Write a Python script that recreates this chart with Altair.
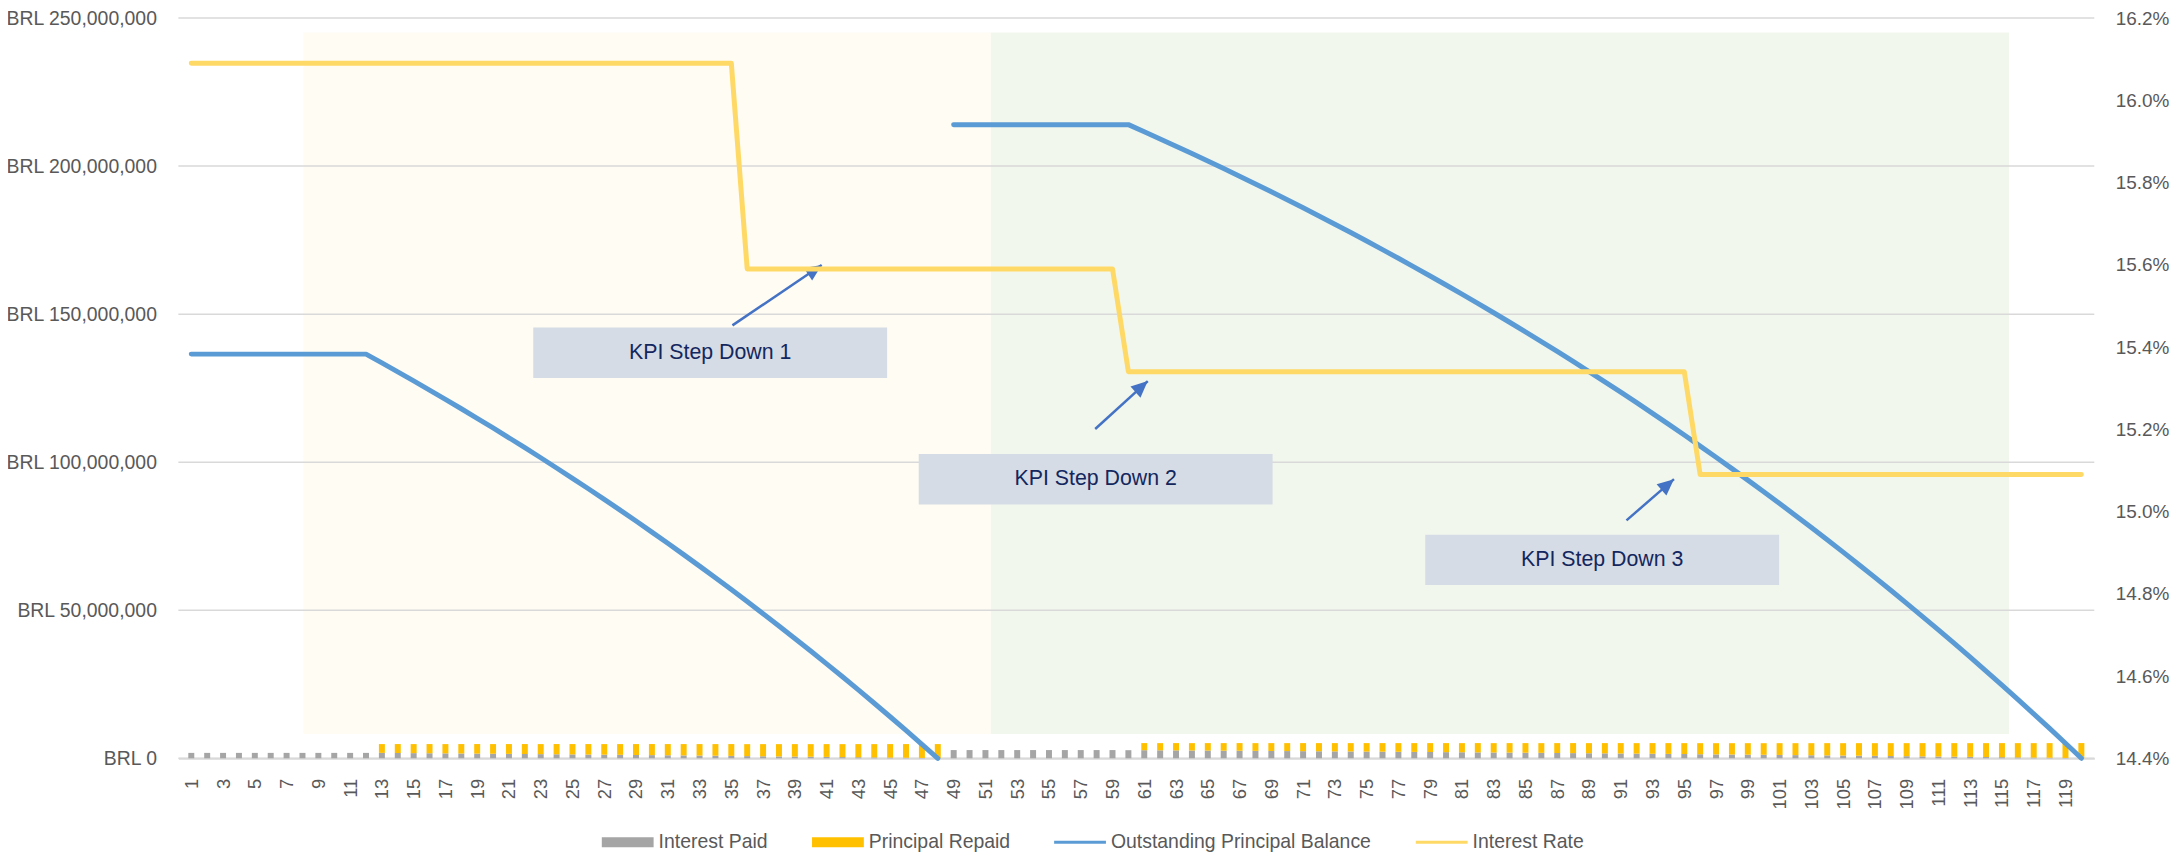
import altair as alt
import pandas as pd

# ---------------- data ----------------
months = list(range(1, 121))

# BRL millions per month
interest_paid_m = (
    [1.83] * 12
    + [1.830, 1.790, 1.750, 1.709, 1.667, 1.625, 1.583, 1.540, 1.496, 1.451,
       1.406, 1.361, 1.315, 1.268, 1.220, 1.172, 1.124, 1.074, 1.024, 0.974,
       0.922, 0.870, 0.817]
    + [0.740, 0.688, 0.635, 0.581, 0.526, 0.471, 0.414, 0.358, 0.300, 0.242,
       0.182, 0.122, 0.062]
    + [2.78] * 11 + [2.74]
    + [2.736, 2.705, 2.674, 2.643, 2.611, 2.579, 2.546, 2.513, 2.480, 2.446,
       2.411, 2.377, 2.341, 2.306, 2.270, 2.233, 2.196, 2.159, 2.121, 2.082,
       2.043, 2.004, 1.964, 1.923, 1.882, 1.841, 1.799, 1.756, 1.713, 1.670,
       1.625, 1.580, 1.535, 1.489, 1.443]
    + [1.373, 1.326, 1.278, 1.230, 1.181, 1.132, 1.082, 1.031, 0.980, 0.928,
       0.875, 0.822, 0.768, 0.714, 0.658, 0.602, 0.545, 0.488, 0.429, 0.370,
       0.311, 0.250, 0.189, 0.127, 0.064]
)

principal_repaid_m = (
    [0.0] * 12
    + [2.97, 3.02, 3.05, 3.10, 3.13, 3.18, 3.23, 3.26, 3.31, 3.36, 3.39, 3.45,
       3.49, 3.54, 3.58, 3.63, 3.68, 3.74, 3.78, 3.83, 3.88, 3.93, 3.99]
    + [4.04, 4.10, 4.15, 4.21, 4.26, 4.32, 4.37, 4.44, 4.49, 4.56, 4.62, 4.68, 4.74]
    + [0.0] * 12
    + [2.40, 2.42, 2.46, 2.48, 2.52, 2.55, 2.59, 2.61, 2.65, 2.68, 2.72, 2.75,
       2.79, 2.82, 2.86, 2.90, 2.93, 2.97, 3.01, 3.05, 3.08, 3.13, 3.16, 3.21,
       3.25, 3.28, 3.33, 3.38, 3.41, 3.46, 3.51, 3.54, 3.60, 3.64, 3.68, 3.74,
       3.78, 3.83, 3.88, 3.92, 3.98, 4.03, 4.08, 4.14, 4.18, 4.24, 4.29, 4.35,
       4.40, 4.47, 4.51, 4.58, 4.63, 4.69, 4.76, 4.81, 4.87, 4.94, 5.00, 5.08]
)

balance_m = (
    [136.5] * 12
    + [133.53, 130.51, 127.46, 124.36, 121.23, 118.05, 114.82, 111.56, 108.25,
       104.89, 101.50, 98.05, 94.56, 91.02, 87.44, 83.81, 80.13, 76.39, 72.61,
       68.78, 64.90, 60.97, 56.98, 52.94, 48.84, 44.69, 40.48, 36.22, 31.90,
       27.53, 23.09, 18.60, 14.04, 9.42, 4.74, 0.0]
    + [214.0] * 12
    + [211.60, 209.18, 206.72, 204.24, 201.72, 199.17, 196.58, 193.97, 191.32,
       188.64, 185.92, 183.17, 180.38, 177.56, 174.70, 171.80, 168.87, 165.90,
       162.89, 159.84, 156.76, 153.63, 150.47, 147.26, 144.01, 140.73, 137.40,
       134.02, 130.61, 127.15, 123.64, 120.10, 116.50, 112.86, 109.18, 105.44,
       101.66, 97.83, 93.95, 90.03, 86.05, 82.02, 77.94, 73.80, 69.62, 65.38,
       61.09, 56.74, 52.34, 47.87, 43.36, 38.78, 34.15, 29.46, 24.70, 19.89,
       15.02, 10.08, 5.08, 0.0]
)
balance_tranche = ["Tranche 1"] * 48 + ["Tranche 2"] * 72

interest_rate_pct = [16.09] * 35 + [15.59] * 24 + [15.34] * 36 + [15.09] * 25

series_names = ["Interest Paid", "Principal Repaid",
                "Outstanding Principal Balance", "Interest Rate"]
series_colors = ["#A5A5A5", "#FFC000", "#5B9BD5", "#FFD966"]

x_tick_labels = list(range(1, 121, 2))
left_ticks_m = [0, 50, 100, 150, 200, 250]
right_ticks = [0.144, 0.146, 0.148, 0.150, 0.152, 0.154, 0.156, 0.158, 0.160, 0.162]

# shaded periods (month units / BRL millions)
period_start = [8.05, 51.34]
period_end = [51.34, 115.45]
period_bottom_m = [8.2, 8.2]
period_top_m = [245.1, 245.1]
period_fill = ["#FFFCF3", "#F2F7EE"]

# KPI annotations
kpi_labels = ["KPI Step Down 1", "KPI Step Down 2", "KPI Step Down 3"]
box_x1 = [22.53, 46.80, 78.69]
box_x2 = [44.81, 69.08, 100.97]
box_top_m = [145.5, 102.8, 75.5]
box_bottom_m = [128.4, 85.7, 58.5]
arrow_x_from = [35.07, 57.91, 91.36]
arrow_y_from_m = [146.2, 111.2, 80.35]
arrow_x_to = [40.69, 61.22, 94.35]
arrow_y_to_m = [166.6, 127.4, 94.28]
arrow_angle = [56, 48, 49]

# ---------------- tables ----------------
M = 1_000_000
bars_df = pd.DataFrame({
    "month": months * 2,
    "series": ["Interest Paid"] * 120 + ["Principal Repaid"] * 120,
    "ord": [0] * 120 + [1] * 120,
    "value": [v * M for v in interest_paid_m] + [v * M for v in principal_repaid_m],
})
bal_df = pd.DataFrame({
    "month": months,
    "balance": [v * M for v in balance_m],
    "tranche": balance_tranche,
    "series": ["Outstanding Principal Balance"] * 120,
})
rate_df = pd.DataFrame({
    "month": months,
    "rate": [v / 100 for v in interest_rate_pct],
    "series": ["Interest Rate"] * 120,
})
period_df = pd.DataFrame({
    "x1": period_start, "x2": period_end,
    "y1": [v * M for v in period_bottom_m], "y2": [v * M for v in period_top_m],
    "fill": period_fill,
})
grid_df = pd.DataFrame({"v": [v * M for v in left_ticks_m]})
kpi_df = pd.DataFrame({
    "label": kpi_labels,
    "x1": box_x1, "x2": box_x2,
    "y1": [v * M for v in box_bottom_m], "y2": [v * M for v in box_top_m],
    "ax1": arrow_x_from, "ay1": [v * M for v in arrow_y_from_m],
    "ax2": arrow_x_to, "ay2": [v * M for v in arrow_y_to_m],
    "angle": arrow_angle,
})

# ---------------- styling ----------------
FONT = "Liberation Sans, Arial, sans-serif"
LABEL_COLOR = "#595959"

x_scale = alt.Scale(domain=[0.5, 120.5], nice=False, zero=False)
x_axis = alt.Axis(values=x_tick_labels, labelAngle=270, labelFontSize=18.5,
                  labelColor=LABEL_COLOR, labelFont=FONT, labelPadding=20,
                  ticks=False, grid=False, domainColor="#D9D9D9", domainWidth=2,
                  labelOverlap=False, labelFlush=False, title=None)
yl_scale = alt.Scale(domain=[0, 250 * M], nice=False, zero=True)
yl_axis = alt.Axis(values=[v * M for v in left_ticks_m],
                   labelExpr="'BRL ' + format(datum.value, ',')",
                   grid=False, domain=False, ticks=False, labelFontSize=19.5,
                   labelColor=LABEL_COLOR, labelFont=FONT, labelPadding=22,
                   labelLimit=400, title=None)
yr_scale = alt.Scale(domain=[0.144, 0.162], nice=False, zero=False)
yr_axis = alt.Axis(orient="right", values=right_ticks, format=".1%", grid=False,
                   domain=False, ticks=False, labelFontSize=19, labelColor=LABEL_COLOR,
                   labelFont=FONT, labelPadding=21, title=None)

bar_like = "indexof(['Interest Paid','Principal Repaid'], datum.value) >= 0"
legend = alt.Legend(
    title=None, orient="none", legendX=425, legendY=801, direction="horizontal",
    symbolSize=2704, labelFontSize=19.5, labelColor=LABEL_COLOR, labelFont=FONT,
    labelOffset=5, columnPadding=44, labelLimit=500,
    symbolType={"expr": bar_like + " ? 'M-1,-0.19L1,-0.19L1,0.19L-1,0.19Z' : 'M-1,-0.055L1,-0.055L1,0.055L-1,0.055Z'"},
    symbolFillColor={"expr": "scale('color', datum.value)"},
    symbolStrokeWidth=0, symbolOpacity=1,
)
color = alt.Color("series:N", scale=alt.Scale(domain=series_names, range=series_colors),
                  legend=legend)

X = lambda f: alt.X(f, scale=x_scale, axis=x_axis)
YL = lambda f: alt.Y(f, scale=yl_scale, axis=yl_axis)

bg = alt.Chart(period_df).mark_rect().encode(
    x=X("x1:Q"), x2="x2:Q", y=YL("y1:Q"), y2="y2:Q",
    fill=alt.Fill("fill:N", scale=None, legend=None),
)
grid = alt.Chart(grid_df).mark_rule(color="#D9D9D9", strokeWidth=1.5).encode(y=YL("v:Q"))

bars = alt.Chart(bars_df).mark_bar(size=6).encode(
    x=X("month:Q"), y=alt.Y("value:Q", stack="zero", scale=yl_scale, axis=yl_axis),
    color=color, order=alt.Order("ord:Q", sort="ascending"),
)
balance = alt.Chart(bal_df).mark_line(strokeWidth=5, strokeCap="round", strokeJoin="round").encode(
    x=X("month:Q"), y=YL("balance:Q"), detail="tranche:N", color=color,
)
boxes = alt.Chart(kpi_df).mark_rect(color="#D6DCE5").encode(
    x=X("x1:Q"), x2="x2:Q", y=YL("y1:Q"), y2="y2:Q")
texts = alt.Chart(kpi_df).transform_calculate(
    xc="(datum.x1 + datum.x2) / 2", yc="(datum.y1 + datum.y2) / 2"
).mark_text(font=FONT, fontSize=21.4, color="#13275E", baseline="middle", align="center").encode(
    x=X("xc:Q"), y=YL("yc:Q"), text="label:N")
arrows = alt.Chart(kpi_df).mark_rule(color="#4472C4", strokeWidth=2.5).encode(
    x=X("ax1:Q"), y=YL("ay1:Q"), x2="ax2:Q", y2="ay2:Q")
heads = alt.Chart(kpi_df).mark_point(
    shape="M0,0L0.45,1L-0.45,1Z", size=1100, filled=True, color="#4472C4", opacity=1
).encode(x=X("ax2:Q"), y=YL("ay2:Q"), angle=alt.Angle("angle:Q", scale=None))

rate = alt.Chart(rate_df).mark_line(strokeWidth=5, strokeCap="round", strokeJoin="round").encode(
    x=X("month:Q"), y=alt.Y("rate:Q", scale=yr_scale, axis=yr_axis), color=color,
)

left = alt.layer(bg, grid, bars, balance, boxes, texts, arrows, heads)
chart = alt.layer(left, rate).resolve_scale(y="independent").properties(
    width=1923, height=743,
    autosize=alt.AutoSizeParams(type="none"),
    padding={"left": 171, "top": 8.5, "right": 78, "bottom": 101},
    background="white",
).configure_view(strokeWidth=0)

chart.save("out.html", embed_options={"renderer": "svg", "actions": False})
